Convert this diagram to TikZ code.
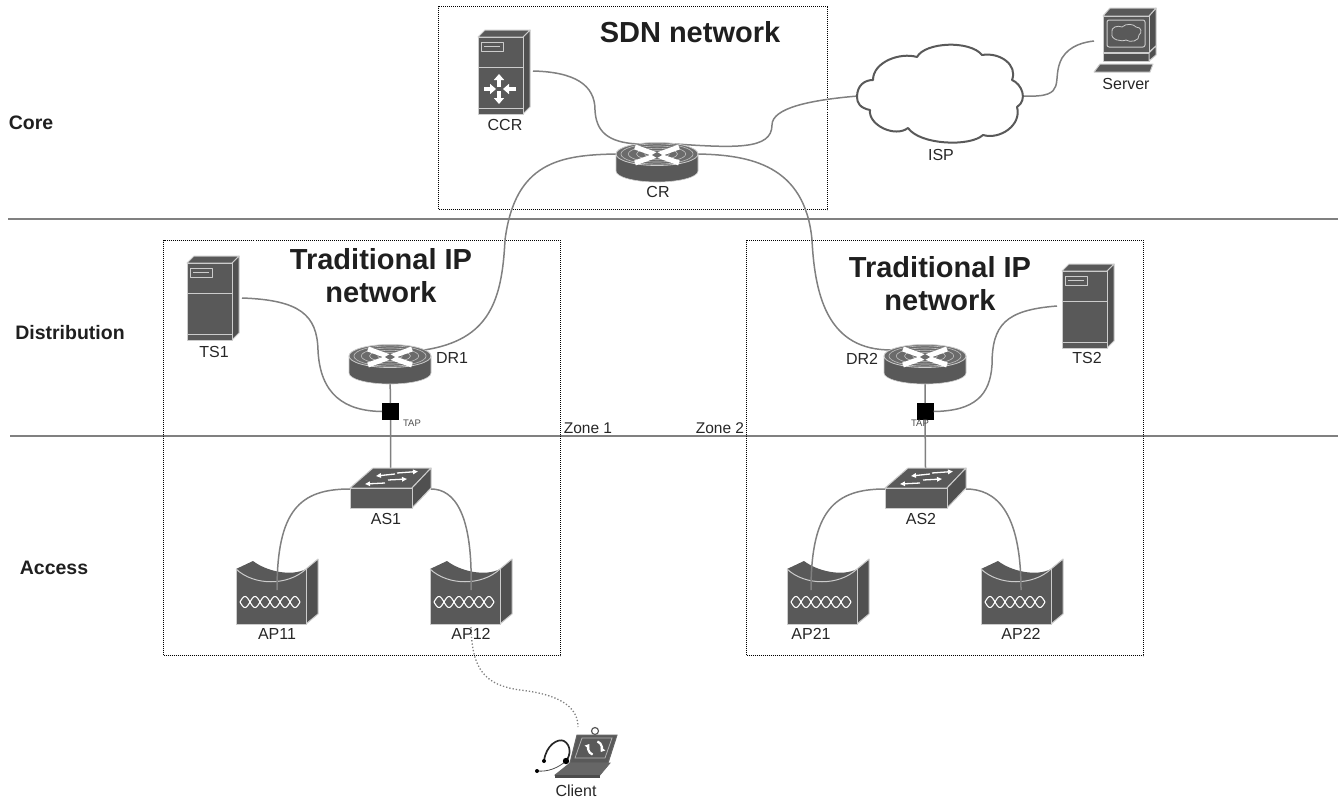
\documentclass[tikz,border=0pt]{standalone}
\usepackage{fontspec}
\setmainfont{Liberation Sans}
\usetikzlibrary{shapes.geometric,arrows.meta}
\definecolor{icon}{HTML}{595959}
\definecolor{iconside}{HTML}{505050}
\definecolor{wire}{HTML}{808080}
\newcommand{\fsz}[1]{\fontsize{#1}{#1}\selectfont}
\tikzset{
  x=1pt,y=-1pt,
  wirepath/.style={draw=wire,line width=1.5pt},
  radiolink/.style={draw=wire,line width=1.3pt,dotted},
  zonebox/.style={draw=black,line width=1pt,densely dotted},
  tier/.style={draw=wire,line width=1.6pt},
  lab/.style={font=\fsz{16},text=black!85,inner sep=0pt},
  biglab/.style={font=\bfseries\fsz{29},text=black!88,align=center,inner sep=0pt},
  tierlab/.style={font=\bfseries\fsz{19.5},text=black!88,inner sep=0pt},
  iconbox/.style={inner sep=0pt,outer sep=0pt},
  routernode/.style={ellipse,inner sep=0pt,outer sep=0pt,minimum width=82pt,minimum height=22pt},
  tapbox/.style={fill=black,minimum size=17pt,inner sep=0pt,outer sep=0pt},
  edge/.style={draw=white!80!black,line width=1pt,line join=round},
  fat/.style={white,line width=3.5pt,-{Triangle[width=10pt,length=6pt]}},
  thin arrow/.style={white,line width=1.3pt,-{Triangle[width=4.5pt,length=5pt]}},
  tower/.pic={
    \path[edge,fill=iconside] (45,0)--(52,-7)--(52,70)--(45,77)--cycle;
    \path[edge,fill=icon] (0,0)--(7,-7)--(52,-7)--(45,0)--cycle;
    \path[edge,fill=icon] (0,0) rectangle (45,77);
    \draw[edge] (3,5) rectangle (25,14);
    \draw[edge,line width=.8pt] (6,9.5)--(22,9.5);
    \draw[edge] (0,30)--(45,30);
    \draw[edge] (0,71)--(45,71);
  },
  routericon/.pic={
    \path[fill=icon,draw=white!80!black,line width=.6pt] (-41,0)--(-41,17) arc[start angle=180,end angle=0,x radius=41,y radius=11]--(41,0)--cycle;
    \path[fill=white!42!black,draw=white!80!black,line width=.8pt] (0,0) ellipse[x radius=41,y radius=11.5];
    \foreach \r in {.3,.5,.7,.88}{\draw[white!75!black,line width=.6pt] (0,0) ellipse[x radius=41*\r,y radius=11.5*\r];}
    \draw[white,line width=5pt] (-22,-7)--(22,9);
    \draw[white,line width=5pt] (22,-7)--(-22,9);
    \fill[white!42!black] (-5,1)--(0,-2)--(5,1)--(0,4)--cycle;
  },
  switchicon/.pic={
    \path[edge,fill=icon] (0,0)--(23,-20)--(81,-20)--(62,0)--cycle;
    \path[edge,fill=iconside] (62,0)--(81,-20)--(81,0)--(62,20)--cycle;
    \path[edge,fill=icon] (0,0) rectangle (62,20);
    \draw[thin arrow] (45,-14)--(26,-12);
    \draw[thin arrow] (47,-15)--(68,-16.5);
    \draw[thin arrow] (35,-5)--(15,-4);
    \draw[thin arrow] (38,-8)--(57,-9);
  },
  apicon/.pic={
    \path[edge,fill=iconside] (70,0)--(82,-10)--(82,45)--(70,55)--cycle;
    \path[fill=icon] (0,0)--(17,-8) .. controls (30,2) and (55,8) .. (70,0)--(70,55)--(0,55)--cycle;
    \draw[edge] (0,0) .. controls (18,17) and (52,17) .. (70,0);
    \draw[edge] (0,0)--(0,55)--(70,55)--(70,0);
    \draw[white,line width=1.1pt,domain=0:6,samples=60] plot ({4+\x*10},{33+5.5*sin(\x*180)});
    \draw[white,line width=1.1pt,domain=0:6,samples=60] plot ({4+\x*10},{33-5.5*sin(\x*180)});
  },
}
\begin{document}
\begin{tikzpicture}
\useasboundingbox (0,0) rectangle (1338,803);
% tiers
\coordinate (t1a) at (8,219);\coordinate (t1b) at (1338,219);
\coordinate (t2a) at (10,436);\coordinate (t2b) at (1338,436);
\draw[tier] (t1a)--(t1b);
\draw[tier] (t2a)--(t2b);
% zones
\node[zonebox,minimum width=389pt,minimum height=203pt,anchor=north west,inner sep=0pt] (sdn) at (438,6) {};
\node[zonebox,minimum width=397pt,minimum height=415pt,anchor=north west,inner sep=0pt] (ip1) at (163,240) {};
\node[zonebox,minimum width=397pt,minimum height=415pt,anchor=north west,inner sep=0pt] (ip2) at (746,240) {};
% anchors for icons
\node[iconbox,minimum width=59pt,minimum height=84pt] (ccr) at (503.5,71) {};
\node[routernode] (cr) at (657,154) {};
\node[routernode] (dr1) at (390,356) {};
\node[routernode] (dr2) at (925,356) {};
\node[iconbox,minimum width=58pt,minimum height=84pt] (ts1) at (213,298) {};
\node[iconbox,minimum width=58pt,minimum height=84pt] (ts2) at (1086,306) {};
\node[iconbox,minimum width=81pt,minimum height=40pt] (as1) at (390.5,488) {};
\node[iconbox,minimum width=81pt,minimum height=40pt] (as2) at (925.5,488) {};
\node[iconbox,minimum width=82pt,minimum height=30pt] (ap11) at (277,590) {};
\node[iconbox,minimum width=82pt,minimum height=30pt] (ap12) at (471,590) {};
\node[iconbox,minimum width=82pt,minimum height=30pt] (ap21) at (811,590) {};
\node[iconbox,minimum width=82pt,minimum height=30pt] (ap22) at (1021,590) {};
\node[iconbox,minimum width=4pt,minimum height=4pt] (apdot) at (471,625) {};
\node[iconbox,minimum width=70pt,minimum height=50pt] (client) at (578,752) {};
\node[iconbox,minimum width=62pt,minimum height=64pt] (server) at (1125,41) {};
\node[iconbox,minimum width=166pt,minimum height=90pt] (isp) at (941,96) {};
% connectors below icons
\draw[wirepath] (ccr.east) .. controls (575,72) and (595,85) .. (595,110) .. controls (596,130) and (606,143) .. (cr.150);
\draw[wirepath] (cr.35) .. controls (735,148) and (772,150) .. (772,125) .. controls (772,108) and (810,100) .. (isp.west);
\draw[wirepath] (cr.west) .. controls (560,155) and (515,162) .. (505,240) .. controls (502,300) and (490,340) .. (dr1.10);
\draw[wirepath] (cr.east) .. controls (750,155) and (805,165) .. (812,240) .. controls (815,300) and (830,350) .. (dr2.170);
\draw[wirepath] (isp.east) .. controls (1070,98) and (1050,80) .. (1062,58) .. controls (1070,45) and (1085,42) .. (server.west);
\node[tapbox] (tap1) at (390.5,411.5) {};
\node[tapbox] (tap2) at (925,411.5) {};
\draw[wirepath] (ts1.east) .. controls (300,300) and (317,315) .. (318,350) .. controls (320,395) and (345,411) .. (tap1.west);
\draw[wirepath] (ts2.west) .. controls (1005,310) and (992,325) .. (992,365) .. controls (990,395) and (975,411) .. (tap2.east);
\draw[wirepath] (dr1.south) -- (tap1) -- (as1.north);
\draw[wirepath] (dr2.south) -- (tap2) -- (as2.north);
% cloud
\path[draw=black!65,line width=2pt,fill=white,line join=round] (857,97)
  .. controls (857,85) and (865,80) .. (873,80)
  .. controls (873,62) and (900,52) .. (917,57)
  .. controls (925,42) and (970,40) .. (982,55)
  .. controls (1000,52) and (1018,65) .. (1012,80)
  .. controls (1022,84) and (1028,100) .. (1017,107)
  .. controls (1022,125) and (1000,140) .. (983,135)
  .. controls (970,147) and (920,145) .. (908,128)
  .. controls (895,138) and (868,125) .. (870,110)
  .. controls (860,108) and (857,103) .. (857,97) -- cycle;
% icons
\pic at (478,37) {tower};
\pic at (187,263) {tower};
\pic at (1062,271) {tower};
\pic at (657,154) {routericon};
\pic at (390,356) {routericon};
\pic at (925,356) {routericon};
\pic at (350,488) {switchicon};
\pic at (885,488) {switchicon};
\pic at (236,569) {apicon};
\pic at (430,569) {apicon};
\pic at (787,569) {apicon};
\pic at (981,569) {apicon};
% CCR arrows
\draw[fat] (499,87)--(499,74);
\draw[fat] (499,91)--(499,104);
\draw[fat] (484,89)--(496,89);
\draw[fat] (516,89)--(503,89);
% server
\path[edge,fill=iconside] (1149,16)--(1156,8)--(1156,46)--(1149,52)--cycle;
\path[edge,fill=icon] (1103,16)--(1110,8)--(1156,8)--(1149,16)--cycle;
\path[edge,fill=icon] (1103,16) rectangle (1149,52);
\draw[edge,rounded corners=2pt] (1107,20) rectangle (1145,47);
\draw[edge,line width=.8pt] (1112,33) .. controls (1110,27) and (1118,25) .. (1122,27) .. controls (1126,23) and (1134,24) .. (1136,27) .. controls (1142,27) and (1142,33) .. (1139,35) .. controls (1140,41) and (1130,43) .. (1126,40) .. controls (1122,42) and (1110,40) .. cycle;
\path[edge,fill=iconside] (1103,53) rectangle (1149,61);
\path[edge,fill=iconside] (1149,53)--(1156,46)--(1156,55)--(1149,61)--cycle;
\path[edge,fill=icon] (1094,72)--(1100,64)--(1153,64)--(1150,72)--cycle;
% client
\draw[black!65,line width=1.2pt] (595,731) circle[radius=3.5];
\path[draw=black!60,fill=icon,line width=1pt] (577,735)--(617,735)--(608,763)--(570,763)--cycle;
\path[draw=white!70!black,line width=.8pt,fill=white!35!black] (582,738)--(612,738)--(605,758)--(575,758)--cycle;
\draw[white,line width=2.2pt,-{Triangle[width=5.5pt,length=4pt]}] (595,748) ++(110:7) arc[start angle=110,end angle=215,radius=7];
\draw[white,line width=2.2pt,-{Triangle[width=5.5pt,length=4pt]}] (595,748) ++(290:7) arc[start angle=290,end angle=395,radius=7];
\path[draw=black!60,fill=white!40!black,line width=.8pt] (570,763)--(610,763)--(600,775)--(555,775)--cycle;
\path[fill=black!70] (555,775)--(600,775)--(600,778)--(555,778)--cycle;
\draw[black!85,line width=1.7pt] (544,761) .. controls (546,745) and (558,738) .. (564,741) .. controls (571,745) and (571,755) .. (566,761);
\draw[black!70,line width=.8pt] (537,771) .. controls (548,772) and (558,768) .. (566,761);
\fill[black] (544,761) circle[radius=2];
\fill[black] (566,761) circle[radius=3.2];
\fill[black] (537,771) circle[radius=2];
% wires above icons
\draw[wirepath] (as1.west |- 0,489) .. controls (300,489) and (277,510) .. (ap11.center);
\draw[wirepath] (as1.east |- 0,489) .. controls (455,489) and (473,515) .. (ap12.center);
\draw[wirepath] (as2.west |- 0,489) .. controls (835,489) and (811,510) .. (ap21.center);
\draw[wirepath] (as2.east |- 0,489) .. controls (995,489) and (1021,510) .. (ap22.center);
\draw[radiolink] (apdot) .. controls (472,670) and (485,685) .. (520,690) .. controls (565,695) and (578,710) .. (client.north);
% labels
\node[biglab] (sdnl) at (690,32) {SDN network};
\node[biglab] (ip1l) at (381,276) {Traditional IP\\[4pt]network};
\node[biglab] (ip2l) at (940,284) {Traditional IP\\[4pt]network};
\node[tierlab] (tc) at (31,123) {Core};
\node[tierlab] (td) at (70,333) {Distribution};
\node[tierlab] (ta) at (54,568) {Access};
\node[lab] at (505,125) {CCR};
\node[lab] at (658,192) {CR};
\node[lab] at (941,155) {ISP};
\node[lab] at (1126,84) {Server};
\node[lab] at (452,358) {DR1};
\node[lab] at (862,359) {DR2};
\node[lab] at (214,352) {TS1};
\node[lab] at (1087,358) {TS2};
\node[lab] at (386,519) {AS1};
\node[lab] at (921,519) {AS2};
\node[lab] at (277,634) {AP11};
\node[lab] at (471,634) {AP12};
\node[lab] at (811,634) {AP21};
\node[lab] at (1021,634) {AP22};
\node[lab] at (576,791) {Client};
\node[font=\fsz{9.5},text=black!70,inner sep=0pt] at (412,423) {TAP};
\node[font=\fsz{9.5},text=black!70,inner sep=0pt] at (920,423) {TAP};
\node[lab,font=\fsz{15.5}] at (588,428) {Zone 1};
\node[lab,font=\fsz{15.5}] at (720,428) {Zone 2};
\end{tikzpicture}
\end{document}
